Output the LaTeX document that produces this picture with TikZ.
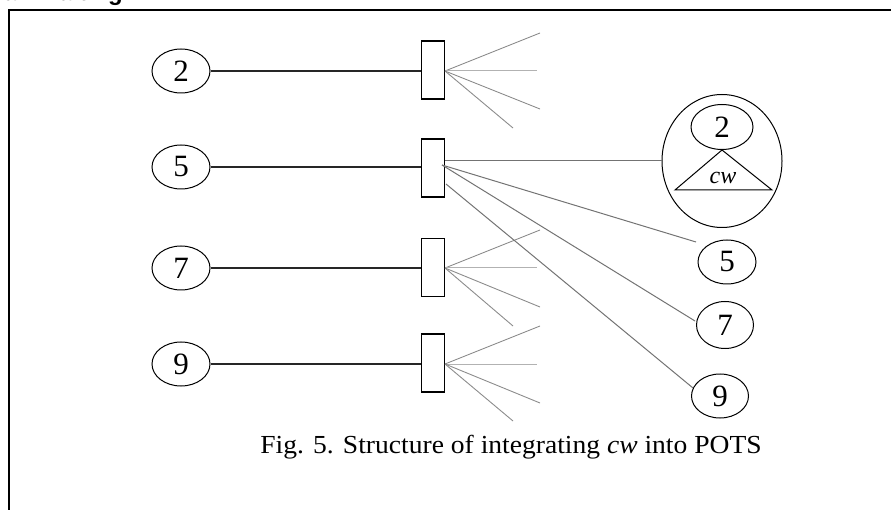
\documentclass[tikz,border=0pt]{standalone}
\usepackage{fontspec}
\setmainfont{Liberation Serif}
\newfontfamily\headsans{Liberation Sans}
\usetikzlibrary{shapes.geometric}

\tikzset{
  num/.style={draw, ellipse, line width=1pt, inner sep=0pt, minimum width=58pt, minimum height=44pt, font=\fontsize{31}{31}\selectfont},
  port/.style={draw, rectangle, line width=1.1pt, inner sep=0pt, minimum width=23pt, minimum height=58pt},
  wire/.style={line width=1.2pt, black!85},
  fan/.style={line width=0.9pt, black!45},
  fanmid/.style={line width=1pt, black!30},
  link/.style={line width=1pt, black!55},
}

\begin{document}
\begin{tikzpicture}[x=1pt, y=-1pt]
\useasboundingbox (0,0) rectangle (891,510);

% heading above the frame (cut by the page edge)
\node[anchor=base east, inner sep=0pt, font=\headsans\bfseries\fontsize{24}{24}\selectfont] (head) at (123,0.5) {Call Waiting};

% frame
\draw[line width=2pt] (9,520) -- (9,10) -- (900,10);

% subscriber nodes on the left
\node[num] (a2) at (181,71) {2};
\node[num] (a5) at (181,167) {5};
\node[num] (a7) at (181,268) {7};
\node[num] (a9) at (181,364) {9};

% ports
\node[port] (b2) at (433,70) {};
\node[port] (b5) at (433,168) {};
\node[port] (b7) at (433,267.5) {};
\node[port] (b9) at (433,363) {};

\foreach \n in {2,5,7,9} \draw[wire] (a\n) -- (a\n.east -| b\n.west);

% fan of open branches
\coordinate (f2a) at (540,33);  \coordinate (f2b) at (537,71);
\coordinate (f2c) at (540,109); \coordinate (f2d) at (513,128);
\coordinate (f7a) at (540,230); \coordinate (f7b) at (537,268);
\coordinate (f7c) at (540,307); \coordinate (f7d) at (513,326);
\coordinate (f9a) at (540,326); \coordinate (f9b) at (537,364);
\coordinate (f9c) at (540,403); \coordinate (f9d) at (513,421);
\coordinate (o2) at (445,71);
\coordinate (o7) at (445,268);
\coordinate (o9) at (445,364);
\foreach \n in {2,7,9} {
  \draw[fan] (o\n) -- (f\n a);
  \draw[fanmid] (o\n) -- (f\n b);
  \draw[fan] (o\n) -- (f\n c);
  \draw[fan] (o\n) -- (f\n d);
}

% right side: composite node with cw
\node[draw, ellipse, line width=1pt, inner sep=0pt, minimum width=120pt, minimum height=133pt] (big) at (722,161) {};
\node[num, minimum width=62pt, minimum height=45pt] (in2) at (722,127) {2};
\coordinate (tl) at (675,190);
\coordinate (tr) at (772,190);
\draw[line width=1pt] (tl) -- (in2.south) -- (tr) -- cycle;
\node[font=\fontsize{24}{24}\selectfont\itshape] (cw) at (723,178) {cw};

\node[num] (c5) at (727,262) {5};
\node[num, minimum width=57pt, minimum height=47pt] (c7) at (725,325) {7};
\node[num, minimum width=57pt] (c9) at (720,396) {9};

% links from port 5
\coordinate (s5) at (442,165);
\coordinate (s9) at (446,184);
\coordinate (t5) at (696,242);
\coordinate (t7) at (695,321);
\coordinate (t9) at (693,388);
\draw[link] (b5.east |- big.west) -- (big.west);
\draw[link] (s5) -- (t5);
\draw[link] (s5) -- (t7);
\draw[link] (s9) -- (t9);

% caption
\node[font=\fontsize{26}{26}\selectfont] (cap) at (511,447) {\scalebox{1.06}[1]{Fig. 5. Structure of integrating \textit{cw} into POTS}};
\end{tikzpicture}
\end{document}
